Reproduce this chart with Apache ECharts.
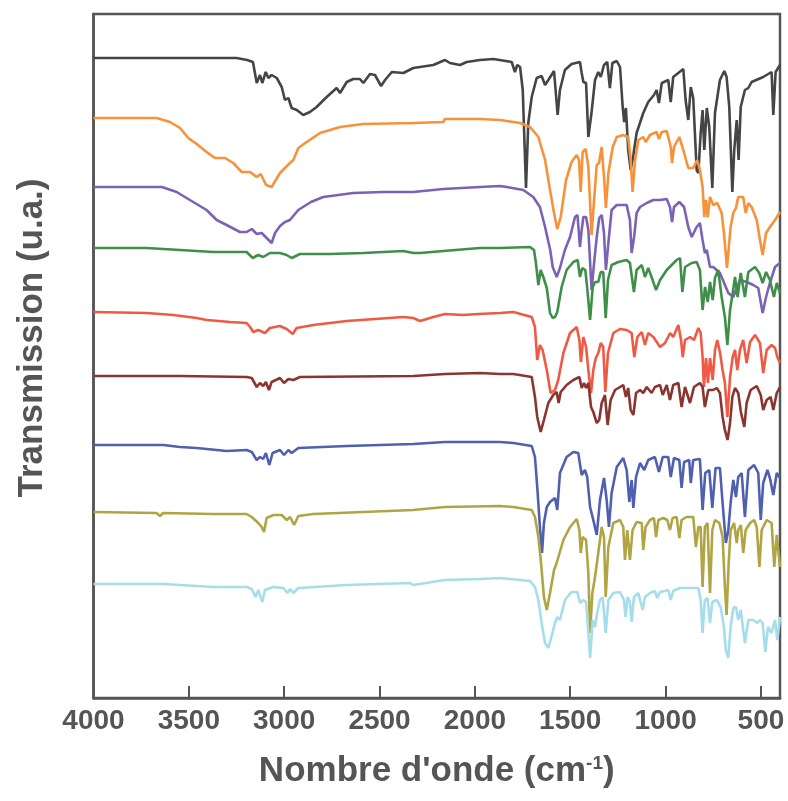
<!DOCTYPE html>
<html>
<head>
<meta charset="utf-8">
<script src="https://cdn.jsdelivr.net/npm/echarts@6/dist/echarts.min.js"></script>
<style>
html,body{margin:0;padding:0;background:#fff;}
#chart{width:788px;height:801px;}
</style>
</head>
<body>
<div id="chart"></div>
<script>
// Tick labels (wavenumber, cm-1)
const xTicks = [4000, 3500, 3000, 2500, 2000, 1500, 1000, 500];

// Spectra: [wavenumber, stacked transmission (u.a.)]
const s1 = [[4000,640],[3250,640],[3195,638],[3164,636],[3144,615],[3127,623],[3115,615],[3097,626],[3083,620],[3066,623],[3039,620],[3013,611],[2996,598],[2978,600],[2961,590],[2934,588],[2900,583],[2865,586],[2830,591],[2777,601],[2725,610],[2707,605],[2672,616],[2638,619],[2603,619],[2585,615],[2550,624],[2524,623],[2492,612],[2471,618],[2436,626],[2375,625],[2323,630],[2218,633],[2157,638],[2131,635],[2078,633],[2043,636],[1973,638],[1903,639],[1807,636],[1790,626],[1778,633],[1763,631],[1749,608],[1732,510],[1720,575],[1702,601],[1676,620],[1650,622],[1632,613],[1615,618],[1585,627],[1566,583],[1554,608],[1528,628],[1493,634],[1449,636],[1440,625],[1431,616],[1417,615],[1405,561],[1388,586],[1370,618],[1353,626],[1340,621],[1323,633],[1306,636],[1292,610],[1279,635],[1256,637],[1239,631],[1225,591],[1217,576],[1208,590],[1196,548],[1183,528],[1169,543],[1152,565],[1117,585],[1091,596],[1061,603],[1047,608],[1035,595],[1020,615],[986,618],[973,596],[960,621],[907,629],[895,598],[881,578],[868,611],[855,600],[837,528],[828,525],[816,565],[806,588],[797,548],[784,590],[771,571],[755,510],[741,585],[715,618],[692,627],[680,621],[666,591],[650,506],[640,548],[627,578],[617,538],[606,591],[584,608],[566,610],[549,616],[488,621],[444,626],[435,583],[423,626],[400,633]];

const s2 = [[4000,580],[3669,580],[3599,576],[3546,570],[3503,560],[3459,554],[3407,546],[3363,540],[3310,540],[3267,535],[3223,526],[3179,526],[3144,521],[3123,524],[3095,513],[3066,511],[3022,525],[2996,530],[2970,535],[2952,538],[2926,550],[2882,556],[2812,565],[2707,571],[2585,574],[2323,575],[2166,576],[2157,579],[1973,579],[1868,578],[1763,575],[1711,571],[1667,561],[1632,538],[1606,508],[1585,485],[1568,469],[1550,481],[1522,518],[1493,536],[1466,543],[1454,538],[1445,506],[1435,546],[1419,549],[1405,531],[1388,463],[1375,498],[1361,533],[1349,535],[1335,551],[1323,521],[1313,490],[1300,525],[1277,551],[1256,561],[1222,563],[1196,561],[1183,538],[1173,506],[1160,538],[1143,558],[1117,561],[1104,556],[1082,563],[1047,566],[1035,559],[1020,566],[994,567],[973,551],[966,535],[956,551],[928,561],[907,548],[881,530],[855,530],[834,538],[820,528],[806,511],[797,481],[788,498],[779,481],[767,501],[750,493],[729,495],[706,485],[694,465],[678,430],[659,471],[645,485],[631,490],[619,501],[593,501],[580,485],[566,495],[549,491],[522,478],[505,458],[491,443],[473,465],[453,471],[426,478],[400,486]];

const s3 = [[4000,511],[3641,511],[3564,506],[3477,496],[3407,488],[3354,478],[3302,473],[3232,466],[3197,466],[3170,469],[3144,464],[3118,465],[3092,460],[3066,455],[3048,465],[3022,472],[2996,476],[2970,478],[2926,488],[2860,496],[2795,501],[2638,505],[2481,506],[2323,506],[2166,509],[2157,510],[1973,511],[1868,512],[1833,511],[1746,508],[1694,501],[1659,491],[1632,471],[1605,448],[1592,431],[1571,421],[1554,430],[1528,448],[1501,461],[1475,481],[1462,483],[1449,451],[1440,468],[1431,481],[1417,481],[1405,468],[1388,408],[1375,435],[1361,461],[1348,480],[1335,483],[1323,465],[1313,428],[1300,455],[1283,488],[1256,493],[1204,493],[1187,478],[1178,445],[1165,461],[1152,485],[1134,491],[1099,495],[1064,498],[1029,498],[994,499],[977,491],[966,476],[956,491],[928,496],[903,491],[881,471],[863,461],[837,471],[820,475],[806,458],[794,445],[784,448],[767,431],[750,431],[715,425],[671,405],[645,401],[610,418],[575,416],[540,413],[514,410],[491,385],[473,401],[453,415],[426,431],[400,435]];

const s4 = [[4000,450],[3721,450],[3546,448],[3372,446],[3197,446],[3165,440],[3136,443],[3110,441],[3075,445],[3022,445],[2987,443],[2961,440],[2917,444],[2760,444],[2585,445],[2375,447],[2323,445],[2288,445],[2166,447],[2157,449],[1973,450],[1868,450],[1711,451],[1690,448],[1680,435],[1667,413],[1655,428],[1641,421],[1623,410],[1606,385],[1592,380],[1580,381],[1568,386],[1545,411],[1519,428],[1484,436],[1461,438],[1449,421],[1437,430],[1421,428],[1411,410],[1396,378],[1382,411],[1370,416],[1353,416],[1340,426],[1327,426],[1314,380],[1302,418],[1283,433],[1248,436],[1204,438],[1187,435],[1166,406],[1152,428],[1125,433],[1108,421],[1091,430],[1068,418],[1050,408],[1029,418],[994,428],[968,433],[942,438],[924,440],[912,406],[898,431],[863,435],[837,436],[820,428],[806,388],[793,411],[779,396],[767,416],[753,398],[741,420],[724,428],[706,401],[689,381],[676,353],[662,388],[648,405],[636,421],[622,401],[606,425],[584,401],[566,426],[531,431],[509,425],[491,415],[473,426],[453,418],[432,401],[417,415],[400,405]];

const s5 = [[4000,386],[3721,385],[3581,383],[3459,380],[3406,378],[3284,376],[3197,375],[3179,371],[3162,366],[3136,368],[3101,365],[3075,370],[3022,372],[2987,369],[2955,364],[2935,370],[2847,373],[2672,377],[2375,381],[2323,380],[2288,377],[2218,381],[2157,384],[2062,383],[1983,384],[1868,385],[1798,386],[1702,381],[1685,371],[1673,338],[1659,353],[1645,348],[1623,328],[1603,305],[1580,308],[1563,318],[1536,345],[1501,365],[1466,371],[1452,358],[1444,336],[1431,361],[1417,351],[1405,328],[1391,305],[1379,328],[1366,340],[1353,345],[1340,355],[1327,351],[1316,306],[1302,345],[1274,365],[1239,369],[1204,368],[1178,365],[1164,341],[1148,361],[1125,366],[1108,353],[1091,365],[1064,361],[1029,351],[1003,355],[976,365],[960,361],[933,373],[919,358],[910,341],[898,358],[872,361],[851,358],[828,370],[816,365],[806,341],[799,311],[788,340],[778,315],[767,340],[753,318],[741,348],[729,358],[715,346],[701,328],[689,315],[676,281],[662,321],[648,341],[636,348],[624,328],[610,348],[593,358],[575,335],[557,356],[531,363],[505,355],[488,325],[470,348],[444,353],[426,350],[414,341],[400,335]];

const s6 = [[4000,322],[3546,322],[3197,321],[3170,320],[3144,311],[3127,315],[3110,312],[3096,316],[3080,308],[3066,316],[3022,320],[3001,315],[2978,319],[2952,318],[2917,321],[2323,322],[2157,324],[1973,325],[1868,324],[1798,324],[1702,321],[1685,301],[1673,281],[1655,266],[1638,278],[1615,295],[1589,303],[1571,306],[1561,295],[1550,306],[1519,313],[1484,318],[1452,321],[1440,310],[1428,315],[1417,310],[1405,315],[1391,291],[1379,286],[1361,275],[1348,278],[1335,295],[1318,303],[1304,273],[1288,298],[1265,308],[1239,311],[1222,313],[1208,301],[1196,310],[1183,288],[1169,283],[1155,305],[1134,308],[1117,305],[1099,311],[1073,305],[1056,311],[1029,313],[1015,303],[994,313],[977,298],[960,313],[933,315],[916,291],[898,311],[872,295],[851,311],[820,315],[806,311],[794,291],[776,308],[750,308],[732,310],[715,305],[701,281],[689,268],[675,258],[662,275],[650,301],[636,310],[619,305],[605,286],[587,271],[575,295],[554,308],[522,312],[501,303],[488,288],[470,298],[449,301],[435,288],[417,305],[400,311]];

const s7 = [[4000,253],[3634,253],[3546,251],[3459,250],[3302,247],[3197,248],[3170,246],[3144,238],[3127,241],[3110,239],[3096,245],[3078,233],[3061,245],[3022,248],[3001,243],[2978,248],[2961,245],[2926,250],[2672,252],[2323,254],[2157,256],[1868,256],[1798,255],[1702,252],[1685,241],[1673,211],[1659,171],[1648,145],[1638,175],[1623,191],[1606,196],[1580,200],[1568,188],[1554,225],[1519,241],[1484,246],[1458,245],[1440,223],[1423,228],[1411,221],[1396,191],[1379,178],[1361,163],[1344,198],[1323,220],[1309,198],[1297,171],[1283,205],[1256,231],[1222,240],[1204,228],[1190,196],[1178,218],[1169,190],[1155,221],[1134,235],[1112,228],[1091,238],[1056,241],[1035,226],[1015,241],[986,241],[973,221],[956,240],[928,238],[916,210],[903,236],[876,238],[868,215],[855,238],[820,239],[806,188],[792,225],[771,228],[755,190],[738,230],[715,230],[701,195],[684,155],[671,168],[659,195],[645,218],[631,201],[619,221],[601,225],[584,181],[566,228],[536,233],[514,225],[501,178],[488,215],[466,228],[453,220],[435,203],[417,225],[400,220]];

const s8 = [[4000,186],[3670,185],[3651,182],[3635,185],[3372,184],[3197,184],[3170,181],[3153,178],[3136,175],[3118,171],[3106,166],[3092,180],[3057,183],[3013,183],[2987,178],[2969,181],[2948,173],[2926,182],[2847,184],[2585,186],[2323,188],[2157,191],[1868,192],[1798,191],[1702,188],[1685,181],[1667,161],[1653,135],[1638,101],[1623,88],[1606,105],[1585,128],[1571,135],[1562,141],[1536,158],[1501,171],[1466,179],[1452,168],[1445,145],[1435,161],[1417,158],[1405,125],[1396,65],[1384,105],[1370,121],[1353,145],[1335,171],[1323,161],[1314,101],[1300,151],[1274,175],[1239,178],[1222,171],[1213,138],[1201,168],[1187,138],[1173,168],[1152,176],[1125,175],[1117,148],[1105,171],[1082,178],[1061,180],[1050,161],[1038,178],[1012,180],[991,178],[977,168],[963,180],[942,181],[928,160],[916,178],[890,181],[855,181],[841,151],[828,171],[816,171],[806,111],[794,171],[780,175],[767,105],[755,168],[741,178],[718,175],[701,161],[689,111],[680,83],[669,135],[659,168],[641,175],[627,155],[619,168],[605,173],[593,145],[580,168],[557,175],[536,178],[522,171],[508,131],[496,168],[470,178],[444,175],[430,131],[417,163],[400,131]];

const s9 = [[4000,114],[3634,114],[3372,111],[3197,111],[3170,109],[3150,101],[3136,108],[3115,96],[3101,108],[3057,111],[3004,110],[2983,105],[2969,109],[2952,105],[2926,110],[2672,113],[2340,115],[2323,113],[2157,118],[1973,119],[1868,120],[1711,117],[1685,111],[1667,98],[1650,75],[1632,55],[1615,50],[1603,58],[1580,75],[1568,81],[1554,78],[1528,98],[1493,106],[1463,106],[1449,95],[1431,98],[1417,96],[1405,65],[1396,40],[1382,78],[1370,71],[1358,86],[1344,98],[1330,101],[1314,65],[1300,98],[1274,105],[1239,106],[1218,98],[1210,81],[1199,101],[1187,96],[1178,76],[1166,101],[1143,105],[1120,88],[1108,101],[1082,105],[1056,107],[1044,100],[1029,106],[1003,107],[986,108],[973,98],[960,107],[925,110],[828,110],[816,98],[806,65],[794,98],[780,100],[767,75],[755,96],[732,98],[711,91],[694,71],[684,48],[671,40],[659,71],[645,90],[631,91],[619,78],[606,88],[584,55],[566,78],[540,78],[519,75],[505,78],[491,75],[477,46],[463,71],[444,65],[426,78],[414,58],[400,81]];

const spectra = [s1, s2, s3, s4, s5, s6, s7, s8, s9];
const colors = ['#454545', '#F7923A', '#7A62B4', '#3F8F4A', '#F05A44', '#8B3530', '#4F60B0', '#B0A545', '#A6DDEA'];

const FONT = "'Liberation Sans', Arial, Helvetica, sans-serif";
const AX = '#555555';

const chart = echarts.init(document.getElementById('chart'), null, {renderer: 'canvas'});
chart.setOption({
  animation: false,
  backgroundColor: '#ffffff',
  grid: {left: 93.5, right: 8, top: 14, bottom: 103, show: true, borderColor: AX, borderWidth: 2.5, backgroundColor: 'transparent'},
  xAxis: {
    type: 'value', inverse: true, min: 400, max: 4000,
    axisLine: {show: true, onZero: false, lineStyle: {color: AX, width: 2.5}},
    axisTick: {show: true, inside: true, length: 12, customValues: xTicks, lineStyle: {color: AX, width: 2}},
    axisLabel: {customValues: xTicks, formatter: v => String(v), fontSize: 28, fontWeight: 'bold', color: AX, margin: 9, fontFamily: FONT},
    splitLine: {show: false},
    name: "{t|Nombre d'onde (cm}{s|-1}{t|)}",
    nameLocation: 'middle', nameGap: 56,
    nameTextStyle: {
      rich: {
        t: {fontSize: 35, fontWeight: 'bold', color: AX, fontFamily: FONT},
        s: {fontSize: 19, fontWeight: 'bold', color: AX, fontFamily: FONT, verticalAlign: 'top'}
      }
    }
  },
  yAxis: {
    type: 'value', min: 0, max: 684,
    axisLine: {show: true, lineStyle: {color: AX, width: 2.5}},
    axisTick: {show: false}, axisLabel: {show: false}, splitLine: {show: false},
    name: 'Transmission (u.a.)', nameLocation: 'middle', nameGap: 44,
    nameTextStyle: {fontSize: 35, fontWeight: 'bold', color: AX, fontFamily: FONT, padding: [0, 0, 0, 36]}
  },
  series: spectra.map((d, i) => ({
    type: 'line', name: 'Spectre ' + (i + 1), data: d,
    showSymbol: false, symbol: 'none', smooth: false,
    lineStyle: {color: colors[i], width: 2.6}, itemStyle: {color: colors[i]},
    z: 2 + i
  }))
});
</script>
</body>
</html>
